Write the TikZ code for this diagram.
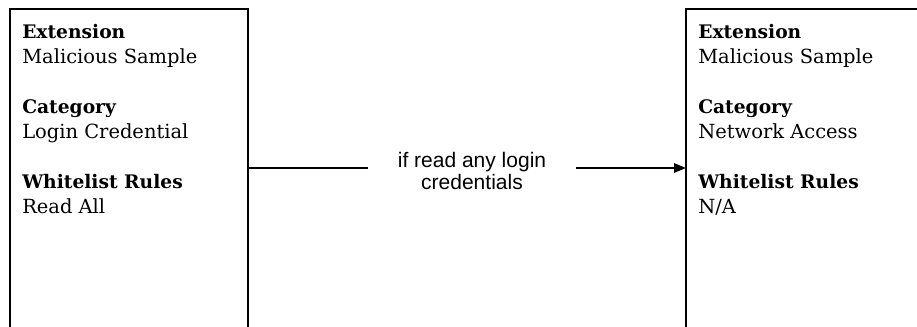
\documentclass[tikz,border=0pt]{standalone}
\usepackage{fontspec}
\setmainfont{DejaVu Serif}
\newfontfamily\labfont{Liberation Sans}
\usetikzlibrary{arrows.meta}
\tikzset{
  panel/.style={draw=black,line width=1.5pt,inner sep=0pt,outer sep=0pt,anchor=north west,minimum height=248.25pt},
  head/.style={anchor=base west,inner sep=0pt,font=\bfseries\fontsize{14}{16}\selectfont},
  val/.style={anchor=base west,inner sep=0pt,font=\fontsize{14.6}{16}\selectfont},
  conn/.style={line width=1.5pt},
}
\begin{document}
\begin{tikzpicture}[x=0.75pt,y=-0.75pt]
\useasboundingbox[fill=white] (0,0) rectangle (917,327);
\node[panel,minimum width=178.5pt] (lbox) at (10,9) {};
\node[panel,minimum width=195pt] (rbox) at (686,9) {};
% left box texts
\node[head] (l1) at (22,39) {Extension};
\node[val]  (l2) at (22,64) {Malicious Sample};
\node[head] (l3) at (22,114) {Category};
\node[val]  (l4) at (22,139) {Login Credential};
\node[head] (l5) at (22,189) {Whitelist Rules};
\node[val]  (l6) at (22,214) {Read All};
% right box texts
\node[head] (r1) at (698,39) {Extension};
\node[val]  (r2) at (698,64) {Malicious Sample};
\node[head] (r3) at (698,114) {Category};
\node[val]  (r4) at (698,139) {Network Access};
\node[head] (r5) at (698,189) {Whitelist Rules};
\node[val]  (r6) at (698,214) {N/A};
% label and connectors
\node[font=\labfont\fontsize{15.75}{16.5}\selectfont,align=center,inner xsep=22.5pt,inner ysep=0pt] (lab) at (472,171) {if read any login\\credentials};
\coordinate (ay) at (0,168);
\draw[conn] (lbox.east |- ay) -- (lab.west |- ay);
\draw[conn,-{Triangle[length=9pt,width=7pt]}] (lab.east |- ay) -- (rbox.west |- ay);
\end{tikzpicture}
\end{document}
